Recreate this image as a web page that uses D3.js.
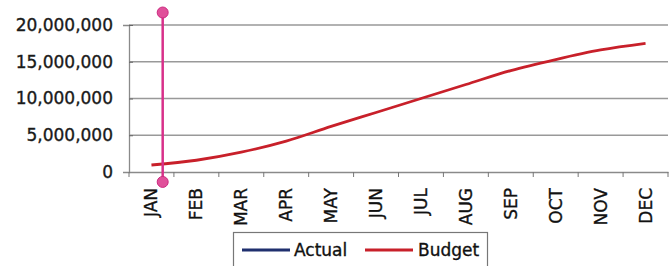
<!DOCTYPE html>
<html><head><meta charset="utf-8">
<script src="https://cdn.jsdelivr.net/npm/d3@7"></script>
<style>body{margin:0;background:#fff;}svg{display:block;font-family:"DejaVu Sans",Verdana,sans-serif;}</style>
</head><body>
<svg id="c" width="672" height="266"></svg>
<script>
const months = ["JAN","FEB","MAR","APR","MAY","JUN","JUL","AUG","SEP","OCT","NOV","DEC"];
const budget = [950000,1600000,2700000,4200000,6200000,8100000,10000000,11900000,13800000,15300000,16600000,17500000];
const actual = [null,null,null,null,null,null,null,null,null,null,null,null];
const yTicks = [0,5000000,10000000,15000000,20000000];
const seriesNames = ["Actual","Budget"];
const seriesColors = ["#1f2f6e","#c8202a"];
// vertical marker (month position as fractional index, low/high values)
const markerPos = [0.25];
const markerRange = [-1350000, 21700000];

const svg = d3.select("#c");
const L = 129, R = 668, T = 25, B = 172;
const x = d3.scaleBand().domain(months).range([L, R]).padding(0);
const xi = d3.scaleLinear().domain([-0.5, 11.5]).range([L, R]);
const y = d3.scaleLinear().domain([0, 20000000]).range([B, T]);

// gridlines
svg.append("g").selectAll("line").data(yTicks.filter(d => d > 0)).join("line")
  .attr("x1", L).attr("x2", R).attr("y1", d => y(d)).attr("y2", d => y(d))
  .attr("stroke", "#999").attr("stroke-width", 1.5);

// y axis
const ya = svg.append("g").attr("transform", `translate(${L},0)`)
  .call(d3.axisLeft(y).tickValues(yTicks).tickFormat(d3.format(",")).tickSize(6).tickPadding(10));
ya.select(".domain").attr("stroke", "#8a8a8a").attr("stroke-width", 1.3);
ya.selectAll(".tick line").attr("stroke", "#666").attr("x2", 4);
ya.selectAll("text").attr("font-size", 17).attr("fill", "#1a1a1a").attr("stroke", "#1a1a1a").attr("stroke-width", 0.35).attr("font-family", "DejaVu Sans");

// x axis
const xa = svg.append("g").attr("transform", `translate(0,${B})`)
  .call(d3.axisBottom(x).tickSize(0).tickPadding(0));
xa.select(".domain").attr("stroke", "#8a8a8a").attr("stroke-width", 1.3);
xa.selectAll("text").attr("font-size", 17).attr("fill", "#111").attr("stroke", "#111").attr("stroke-width", 0.35).attr("font-family", "DejaVu Sans")
  .attr("text-anchor", "end").attr("dy", null)
  .attr("transform", "translate(6,16) rotate(-90)");
xa.selectAll(".tick line").remove();
svg.append("g").selectAll("line").data(d3.range(months.length + 1)).join("line")
  .attr("x1", i => L + i * x.bandwidth()).attr("x2", i => L + i * x.bandwidth())
  .attr("y1", B).attr("y2", B + 5).attr("stroke", "#777");

// lines
const line = d3.line().defined(d => d != null).x((d, i) => x(months[i]) + x.bandwidth() / 2).y(d => y(d)).curve(d3.curveMonotoneX);
svg.append("path").datum(budget).attr("d", line).attr("fill", "none")
  .attr("stroke", seriesColors[1]).attr("stroke-width", 2.8);
svg.append("path").datum(actual).attr("d", line).attr("fill", "none")
  .attr("stroke", seriesColors[0]).attr("stroke-width", 2.8);

// marker
const mg = svg.append("g");
markerPos.forEach(p => {
  mg.append("line").attr("x1", xi(p)).attr("x2", xi(p))
    .attr("y1", y(markerRange[0])).attr("y2", y(markerRange[1]))
    .attr("stroke", "#d8308a").attr("stroke-width", 2.5);
  markerRange.forEach(v => mg.append("circle").attr("cx", xi(p)).attr("cy", y(v)).attr("r", 5.5)
    .attr("fill", "#e0509a").attr("stroke", "#cc2a80").attr("stroke-width", 1));
});

// legend
const lg = svg.append("g");
lg.append("rect").attr("x", 233.5).attr("y", 232.5).attr("width", 254).attr("height", 40)
  .attr("fill", "#fff").attr("stroke", "#777").attr("stroke-width", 1.2);
const items = [{x: 242, tx: 294}, {x: 365, tx: 418}];
items.forEach((it, i) => {
  lg.append("line").attr("x1", it.x).attr("x2", it.x + 48).attr("y1", 250).attr("y2", 250)
    .attr("stroke", seriesColors[i]).attr("stroke-width", 3);
  lg.append("text").attr("x", it.tx).attr("y", 256).attr("font-size", 17).attr("fill", "#111")
    .attr("stroke", "#111").attr("stroke-width", 0.35)
    .text(seriesNames[i]);
});
</script>
</body></html>
